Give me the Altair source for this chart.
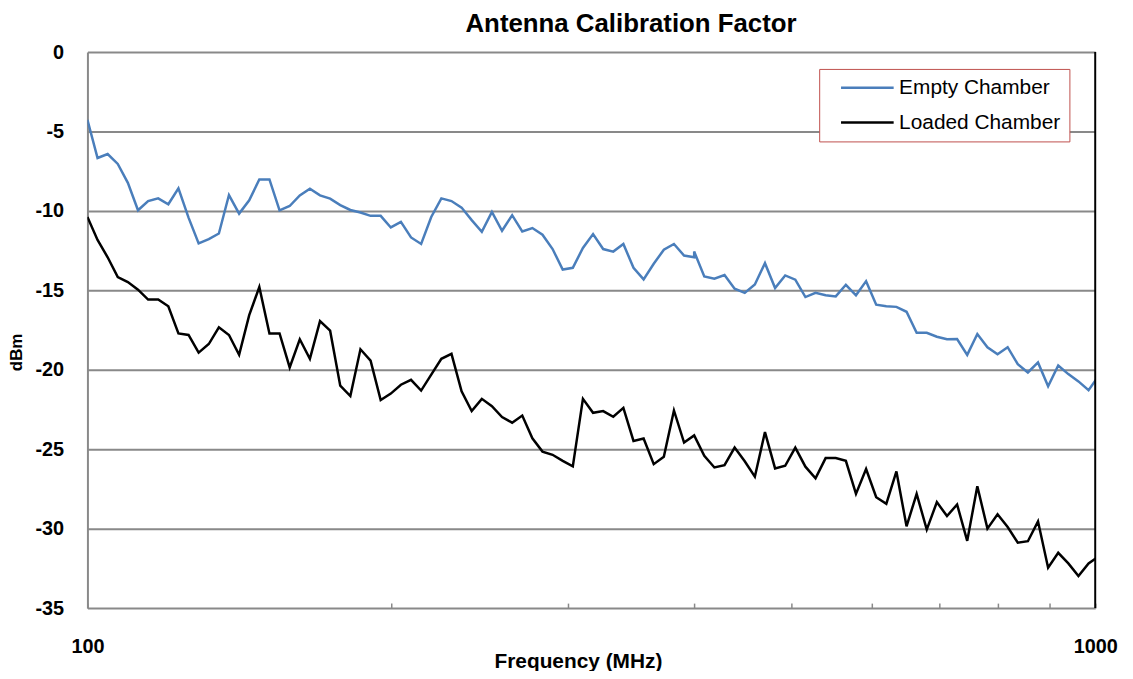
import altair as alt
import pandas as pd

# Frequencies (MHz): two measurement bands joined at 400 MHz (duplicate point)
freqs = [100.0, 102.34, 104.73, 107.18, 109.68, 112.25, 114.87, 117.55, 120.30, 123.11,
         125.99, 128.93, 131.95, 135.03, 138.18, 141.42, 144.72, 148.10, 151.57, 155.11,
         158.74, 162.45, 166.24, 170.13, 174.11, 178.18, 182.34, 186.60, 190.97, 195.43,
         200.00, 204.67, 209.46, 214.35, 219.36, 224.49, 229.74, 235.11, 240.60, 246.23,
         251.98, 257.87, 263.90, 270.07, 276.38, 282.84, 289.45, 296.22, 303.14, 310.22,
         317.48, 324.90, 332.49, 340.26, 348.22, 356.36, 364.69, 373.21, 381.93, 390.86,
         400.00,
         400.00, 409.35, 418.92, 428.71, 438.73, 448.98, 459.48, 470.22, 481.21, 492.46,
         503.97, 515.74, 527.80, 540.13, 552.76, 565.69, 578.91, 592.44, 606.29, 620.46,
         634.96, 649.80, 664.99, 680.53, 696.44, 712.72, 729.38, 746.43, 763.88, 781.73,
         800.00, 818.70, 837.84, 857.42, 877.46, 897.97, 918.96, 940.44, 962.42, 984.92,
         1007.94]

empty_chamber = [-4.27, -6.67, -6.42, -7.04, -8.23, -9.96, -9.38, -9.21, -9.58, -8.58,
                 -10.42, -12.04, -11.77, -11.42, -9.00, -10.17, -9.33, -8.02, -8.02, -9.96,
                 -9.69, -9.02, -8.60, -9.02, -9.23, -9.63, -9.94, -10.10, -10.31, -10.31,
                 -11.04, -10.69, -11.67, -12.08, -10.38, -9.21, -9.38, -9.79, -10.58, -11.31,
                 -10.06, -11.25, -10.27, -11.29, -11.08, -11.50, -12.40, -13.69, -13.58, -12.33,
                 -11.46, -12.40, -12.56, -12.08, -13.58, -14.31, -13.33, -12.44, -12.08, -12.81,
                 -12.92,
                 -12.56, -14.13, -14.27, -14.04, -14.90, -15.16, -14.63, -13.29, -14.85, -14.06,
                 -14.33, -15.42, -15.15, -15.31, -15.38, -14.65, -15.31, -14.42, -15.90, -16.00,
                 -16.04, -16.35, -17.67, -17.67, -17.92, -18.08, -18.06, -19.06, -17.75, -18.58,
                 -19.02, -18.58, -19.65, -20.17, -19.54, -21.04, -19.73, -20.27, -20.73, -21.29,
                 -20.38]

loaded_chamber = [-10.38, -11.83, -12.92, -14.17, -14.48, -14.96, -15.58, -15.58, -16.00, -17.71,
                  -17.81, -18.92, -18.38, -17.33, -17.81, -19.06, -16.56, -14.79, -17.71, -17.71,
                  -19.85, -18.08, -19.31, -16.94, -17.54, -21.00, -21.65, -18.71, -19.42, -21.90,
                  -21.50, -20.94, -20.63, -21.31, -20.31, -19.31, -19.00, -21.35, -22.60, -21.83,
                  -22.29, -22.98, -23.33, -22.88, -24.31, -25.15, -25.35, -25.73, -26.08, -21.83,
                  -22.71, -22.60, -22.96, -22.40, -24.48, -24.33, -25.94, -25.48, -22.56, -24.58,
                  -24.13,
                  -24.13, -25.42, -26.15, -26.00, -24.90, -25.76, -26.73, -23.92, -26.21, -26.04,
                  -24.90, -26.10, -26.83, -25.56, -25.56, -25.73, -27.81, -26.25, -28.02, -28.44,
                  -26.40, -29.85, -27.81, -30.06, -28.33, -29.21, -28.48, -30.77, -27.33, -30.00,
                  -29.10, -29.90, -30.88, -30.79, -29.54, -32.46, -31.52, -32.19, -32.98, -32.19,
                  -31.75]

series_names = ["Empty Chamber", "Loaded Chamber"]
series_colors = ["#4A7EBB", "#000000"]
y_ticks = [0, -5, -10, -15, -20, -25, -30, -35]
x_ticks = [100, 200, 300, 400, 500, 600, 700, 800, 900, 1000]

rows = []
for name, vals in zip(series_names, [empty_chamber, loaded_chamber]):
    for i, (f, v) in enumerate(zip(freqs, vals)):
        rows.append({"idx": i, "freq": f, "dBm": v, "series": name})
df = pd.DataFrame(rows)

FONT = "Liberation Sans"
GRID = "#898989"

x_enc = alt.X(
    "freq:Q",
    scale=alt.Scale(type="log", domain=[100, 1000], nice=False),
    axis=alt.Axis(
        values=x_ticks, format="d",
        labelExpr="datum.value == 100 || datum.value == 1000 ? datum.label : ''",
        title="Frequency (MHz)", grid=False, domain=False,
        ticks=True, tickSize=5, tickColor=GRID, tickWidth=1.5, offset=-5,
        labelPadding=29, labelFlush=False, labelFontSize=20, labelFontWeight="bold",
        labelFont=FONT, labelColor="#000000",
        titleFontSize=21, titleFontWeight="bold", titleFont=FONT, titleColor="#000000",
        titlePadding=-6, titleX=494,
    ),
)

y_enc = alt.Y(
    "dBm:Q",
    scale=alt.Scale(domain=[-35, 0], nice=False),
    axis=alt.Axis(
        values=y_ticks, labelExpr="'' + datum.value", grid=True, gridColor=GRID,
        gridWidth=2, gridOpacity=1,
        ticks=False, domain=True, domainColor=GRID, domainWidth=2,
        labelPadding=24, labelFontSize=20, labelFontWeight="bold", labelFont=FONT,
        labelColor="#000000",
        title="dBm", titleFontSize=17, titleFontWeight="bold", titleFont=FONT,
        titleColor="#000000", titlePadding=9, titleY=302,
    ),
)

lines = alt.Chart(df).mark_line(strokeWidth=2.5, clip=True).encode(
    x=x_enc,
    y=y_enc,
    order=alt.Order("idx:Q"),
    color=alt.Color(
        "series:N",
        scale=alt.Scale(domain=series_names, range=series_colors),
        legend=alt.Legend(
            orient="none", legendX=737, legendY=17, title=None,
            symbolType="stroke", symbolSize=2809, symbolStrokeWidth=2.5,
            symbolOffset=12, labelOffset=4, clipHeight=21, labelLimit=400,
            labelFontSize=21, labelFont=FONT, labelColor="#000000",
            strokeColor="#C0504D", fillColor="#FFFFFF", padding=8.5, rowPadding=13,
        ),
    ),
)

right_edge = alt.Chart(df.head(1)).mark_rule(color="#000000", strokeWidth=2).encode(
    x=alt.datum(1000),
    y=alt.datum(0),
    y2=alt.datum(-35),
)

chart = alt.layer(lines, right_edge).properties(
    width=1015,
    height=560,
    title=alt.TitleParams(
        "Antenna Calibration Factor", fontSize=26, fontWeight="bold", font=FONT,
        color="#000000", anchor="middle", frame="group", dx=40, offset=5,
    ),
    autosize=alt.AutoSizeParams(type="none"),
    padding={"left": 80, "top": 42, "right": 30, "bottom": 61},
).configure_view(stroke=None)

chart.save("out.html", embed_options={"renderer": "svg", "actions": False})
